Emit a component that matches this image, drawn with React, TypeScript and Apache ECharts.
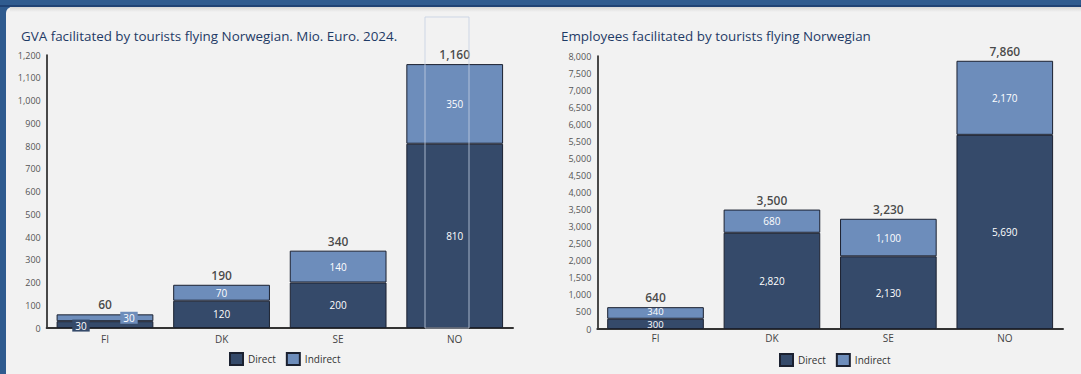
import React, { useEffect, useRef } from "react";
import * as echarts from "echarts";

const categories = ["FI", "DK", "SE", "NO"];
const gvaDirect = [30, 120, 200, 810];
const gvaIndirect = [30, 70, 140, 350];
const gvaTotal = [60, 190, 340, 1160];
const empDirect = [300, 2820, 2130, 5690];
const empIndirect = [340, 680, 1100, 2170];
const empTotal = [640, 3500, 3230, 7860];
const titleLeft = "GVA facilitated by tourists flying Norwegian. Mio. Euro. 2024.";
const titleRight = "Employees facilitated by tourists flying Norwegian";

const DIRECT = "#354a6a";
const INDIRECT = "#6d8dbb";
const BORDER = "#1b2130";
const FONT = "'Open Sans', sans-serif";
const fmt = (v: number) => v.toLocaleString("en-US");

export default function App() {
  const ref = useRef<HTMLDivElement>(null);
  useEffect(() => {
    const chart = echarts.init(ref.current!, null, { renderer: "svg" });

    const grids = [
      { left: 46.7, top: 55, width: 466.3, height: 273 },
      { left: 597.3, top: 56, width: 465.7, height: 273 },
    ];

    const xAxis = [0, 1].map((i) => ({
      type: "category",
      gridIndex: i,
      data: categories,
      axisTick: { show: false },
      axisLine: { lineStyle: { color: "#333", width: 2 } },
      axisLabel: { fontSize: 10, color: "#444", margin: i === 0 ? 6 : 4, fontFamily: FONT },
    }));
    const yAxis = [
      { max: 1200, interval: 100 },
      { max: 8000, interval: 500 },
    ].map((a, i) => ({
      type: "value",
      gridIndex: i,
      min: 0,
      max: a.max,
      interval: a.interval,
      splitLine: { show: false },
      axisTick: { show: false },
      axisLine: { show: true, lineStyle: { color: "#111", width: 1.5 } },
      axisLabel: { fontSize: 9, color: "#555", margin: 6, formatter: (v: number) => fmt(v), fontFamily: FONT },
    }));

    const inLabel = {
      show: true,
      position: "inside",
      color: "#fff",
      fontSize: 10,
      lineHeight: 10,
      fontFamily: FONT,
      formatter: (p: any) => fmt(p.value),
    };

    const directLabel = (i: number, k: number) => {
      if (k !== 0) return undefined;
      if (i === 0) return { offset: [-24, 1], backgroundColor: DIRECT, padding: [1, 3] };
      return { offset: [0, 1], fontSize: 9.5, lineHeight: 9 };
    };
    const indirectLabel = (i: number, k: number) => {
      if (k !== 0) return undefined;
      if (i === 0) return { offset: [24, 0], backgroundColor: INDIRECT, padding: [1, 3] };
      return { offset: [0, -1], fontSize: 9.5, lineHeight: 9 };
    };

    const makeBars = (i: number, direct: number[], indirect: number[], total: number[]) => [
      {
        name: "Direct",
        type: "bar",
        xAxisIndex: i,
        yAxisIndex: i,
        stack: "s" + i,
        barCategoryGap: "17%",
        itemStyle: { color: DIRECT, borderColor: BORDER, borderWidth: 1 },
        label: inLabel,
        data: direct.map((v, k) => {
          const l = directLabel(i, k);
          return l ? { value: v, label: l } : v;
        }),
      },
      {
        name: "Indirect",
        type: "bar",
        xAxisIndex: i,
        yAxisIndex: i,
        stack: "s" + i,
        barCategoryGap: "17%",
        itemStyle: { color: INDIRECT, borderColor: BORDER, borderWidth: 1 },
        label: inLabel,
        data: indirect.map((v, k) => {
          const l = indirectLabel(i, k);
          return l ? { value: v, label: l } : v;
        }),
      },
      {
        name: "Total",
        type: "scatter",
        xAxisIndex: i,
        yAxisIndex: i,
        symbolSize: 1,
        itemStyle: { color: "rgba(0,0,0,0)" },
        label: {
          show: true,
          position: "top",
          distance: 3,
          color: "#1a1a1a",
          fontSize: 12,
          fontWeight: 600,
          fontFamily: FONT,
          formatter: (p: any) => fmt(p.value),
        },
        data: total,
        z: 5,
      },
    ];

    const legendBase = {
      data: ["Direct", "Indirect"],
      icon: "rect",
      itemWidth: 13,
      itemHeight: 12,
      itemGap: 10,
      textStyle: { fontSize: 10, color: "#333", fontFamily: FONT },
      selectedMode: false,
    };

    chart.setOption({
      animation: false,
      backgroundColor: "#2f5b8f",
      textStyle: { fontFamily: FONT },
      graphic: [
        { type: "rect", shape: { x: 6, y: 7, width: 1075, height: 367, r: [6, 0, 0, 0] }, style: { fill: "#f2f2f2" }, z: -10 },
        { type: "rect", shape: { x: 0, y: 5, width: 1081, height: 2 }, style: { fill: "#1f4274" }, z: -9 },
        {
          type: "rect",
          shape: { x: 10, y: 7, width: 1071, height: 5 },
          style: {
            fill: new echarts.graphic.LinearGradient(0, 0, 0, 1, [
              { offset: 0, color: "#d6d6d6" },
              { offset: 1, color: "#f2f2f2" },
            ]),
          },
          z: -9,
        },
        { type: "text", left: 21, top: 29, style: { text: titleLeft, fontSize: 13.4, fill: "#1f3b66", fontFamily: FONT } },
        { type: "text", left: 561, top: 29, style: { text: titleRight, fontSize: 13.4, fill: "#1f3b66", fontFamily: FONT } },
        {
          type: "rect",
          shape: { x: 425, y: 17, width: 44, height: 311 },
          style: { fill: "none", stroke: "rgba(196,208,226,0.8)", lineWidth: 1 },
          z: 100,
        },
      ],
      grid: grids,
      xAxis,
      yAxis,
      legend: [
        { ...legendBase, left: 224, top: 347 },
        { ...legendBase, left: 774, top: 348 },
      ],
      series: [...makeBars(0, gvaDirect, gvaIndirect, gvaTotal), ...makeBars(1, empDirect, empIndirect, empTotal)],
    });
    return () => chart.dispose();
  }, []);
  return <div ref={ref} style={{ position: "fixed", left: 0, top: 0, width: 1081, height: 374 }} />;
}
